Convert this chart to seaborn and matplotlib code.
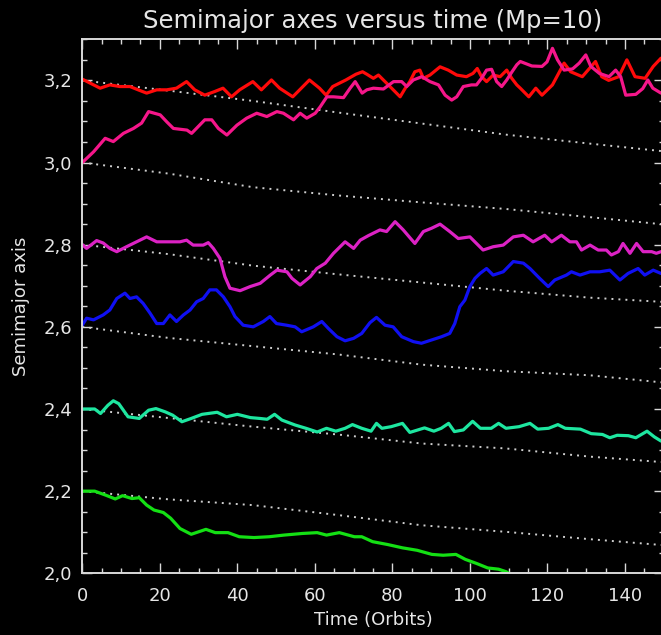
import numpy as np
import pandas as pd
import matplotlib
matplotlib.use("Agg")
import matplotlib.pyplot as plt
import seaborn as sns
from matplotlib.ticker import MultipleLocator

# ---------------- data ----------------
t_red = [0, 4.6, 7.1, 9.7, 12.3, 14.4, 16.6, 19.2, 21.8, 24.3, 26.9, 29.0, 31.6, 34.2, 36.3,
         38.5, 40.6, 44.0, 46.2, 48.8, 50.9, 54.3, 58.6, 61.2, 62.9, 64.6, 68.0, 70.6, 72.3,
         73.4, 75.1, 76.4, 78.1, 79.8, 82.0, 83.2, 84.5, 85.8, 87.1, 88.0, 89.7, 92.3, 94.4,
         96.6, 99.1, 100.8, 101.9, 103.0, 104.3, 106.0, 107.8, 109.5, 110.8, 112.1, 113.0,
         115.2, 117.0, 118.6, 121.3, 124.3, 126.0, 129.0, 132.4, 134.0, 135.8, 138.4, 140.5,
         142.6, 145.2, 147.3, 149.3]
a_red = [3.203, 3.181, 3.189, 3.185, 3.185, 3.177, 3.169, 3.177, 3.177, 3.181, 3.197, 3.177,
         3.164, 3.173, 3.181, 3.160, 3.177, 3.197, 3.177, 3.201, 3.181, 3.160, 3.201, 3.181,
         3.164, 3.185, 3.201, 3.215, 3.221, 3.215, 3.205, 3.213, 3.197, 3.181, 3.160, 3.179,
         3.197, 3.221, 3.225, 3.205, 3.213, 3.233, 3.225, 3.213, 3.209, 3.217, 3.229, 3.209,
         3.197, 3.213, 3.209, 3.225, 3.205, 3.189, 3.181, 3.160, 3.181, 3.164, 3.189, 3.242,
         3.221, 3.209, 3.246, 3.209, 3.200, 3.209, 3.250, 3.209, 3.205, 3.234, 3.254]

t_pink = [0, 2.9, 5.9, 8.0, 10.6, 13.2, 15.3, 17.1, 20.1, 21.8, 23.5, 27.0, 28.2, 31.6, 33.4,
          35.1, 37.3, 39.9, 42.4, 45.0, 47.6, 50.2, 51.9, 54.5, 56.2, 57.9, 60.1, 61.4, 63.1,
          64.8, 67.4, 69.1, 70.4, 72.2, 73.4, 75.1, 77.7, 80.3, 82.4, 83.7, 85.4, 87.6, 89.7,
          91.9, 93.6, 95.3, 96.6, 98.3, 100.4, 101.7, 103.0, 104.3, 105.6, 106.9, 108.2,
          109.5, 110.8, 112.1, 113.0, 116.0, 118.6, 119.9, 121.3, 122.6, 124.3, 126.5, 128.2,
          129.9, 131.2, 133.4, 135.9, 137.6, 138.9, 140.2, 142.8, 144.6, 145.9, 147.2, 149.3]
a_pink = [3.000, 3.026, 3.059, 3.051, 3.071, 3.083, 3.096, 3.124, 3.116, 3.099, 3.083, 3.079,
          3.071, 3.104, 3.104, 3.083, 3.067, 3.091, 3.108, 3.120, 3.112, 3.124, 3.120, 3.104,
          3.120, 3.108, 3.120, 3.136, 3.160, 3.160, 3.158, 3.181, 3.197, 3.169, 3.177, 3.181,
          3.179, 3.197, 3.197, 3.185, 3.201, 3.209, 3.197, 3.189, 3.164, 3.152, 3.160, 3.185,
          3.189, 3.189, 3.205, 3.225, 3.227, 3.197, 3.185, 3.201, 3.220, 3.238, 3.246, 3.235,
          3.234, 3.245, 3.278, 3.250, 3.225, 3.228, 3.242, 3.262, 3.234, 3.217, 3.209, 3.225,
          3.209, 3.164, 3.166, 3.180, 3.201, 3.181, 3.169]

t_orchid = [0, 1.1, 3.7, 5.4, 7.1, 8.9, 11.4, 14.0, 16.6, 19.2, 21.8, 25.2, 26.9, 28.6, 31.2,
            32.5, 33.8, 35.5, 36.8, 38.1, 40.7, 43.3, 45.9, 48.5, 50.2, 52.8, 54.1, 56.2, 58.8,
            60.5, 62.7, 64.8, 67.8, 70.0, 71.7, 73.8, 76.8, 78.5, 80.7, 82.8, 85.8, 88.0, 90.1,
            92.3, 94.8, 97.0, 100.0, 101.7, 103.4, 106.0, 108.6, 111.2, 113.8, 116.3, 119.3,
            121.1, 123.6, 125.8, 127.5, 128.8, 131.0, 133.1, 135.2, 136.5, 138.3, 139.5, 141.3,
            143.0, 144.7, 146.9, 148.1, 149.3]
a_orchid = [2.800, 2.791, 2.810, 2.804, 2.791, 2.783, 2.795, 2.807, 2.819, 2.807, 2.807, 2.807,
            2.811, 2.799, 2.799, 2.805, 2.791, 2.767, 2.722, 2.694, 2.688, 2.698, 2.706, 2.726,
            2.738, 2.734, 2.718, 2.702, 2.722, 2.742, 2.755, 2.779, 2.807, 2.791, 2.811, 2.822,
            2.836, 2.832, 2.856, 2.836, 2.803, 2.832, 2.840, 2.850, 2.832, 2.815, 2.819, 2.803,
            2.787, 2.795, 2.799, 2.819, 2.823, 2.807, 2.823, 2.807, 2.823, 2.807, 2.807, 2.787,
            2.799, 2.787, 2.787, 2.775, 2.783, 2.803, 2.779, 2.803, 2.783, 2.783, 2.779, 2.783]

t_blue = [0, 1.1, 2.9, 5.4, 7.1, 8.9, 11.0, 12.3, 14.0, 15.7, 17.5, 19.2, 20.9, 22.6, 24.3,
          26.1, 27.8, 29.5, 31.2, 32.9, 34.6, 36.4, 38.1, 39.4, 41.5, 44.1, 46.7, 48.4, 50.1,
          52.7, 54.9, 56.6, 59.6, 61.8, 63.5, 65.7, 67.8, 70.0, 72.1, 74.2, 75.9, 78.1, 80.2,
          82.4, 85.4, 87.5, 90.1, 92.7, 94.8, 96.1, 97.4, 98.7, 100.0, 101.3, 102.6, 104.3,
          106.0, 108.6, 111.2, 113.8, 115.5, 118.0, 120.2, 121.9, 124.9, 126.2, 128.4, 131.0,
          133.5, 136.1, 138.7, 140.8, 143.4, 145.1, 147.3, 149.3]
a_blue = [2.604, 2.621, 2.617, 2.629, 2.641, 2.669, 2.682, 2.669, 2.673, 2.657, 2.633, 2.608,
          2.608, 2.629, 2.613, 2.629, 2.641, 2.661, 2.669, 2.690, 2.690, 2.673, 2.649, 2.625,
          2.604, 2.600, 2.613, 2.625, 2.608, 2.604, 2.600, 2.588, 2.600, 2.613, 2.596, 2.576,
          2.566, 2.572, 2.584, 2.610, 2.623, 2.604, 2.600, 2.576, 2.564, 2.560, 2.568, 2.576,
          2.584, 2.608, 2.649, 2.665, 2.698, 2.718, 2.730, 2.742, 2.726, 2.734, 2.759, 2.755,
          2.742, 2.718, 2.698, 2.714, 2.726, 2.734, 2.726, 2.734, 2.734, 2.738, 2.714, 2.730,
          2.742, 2.726, 2.738, 2.730]

t_teal = [0, 3.2, 4.7, 6.6, 8.0, 9.4, 11.8, 14.7, 17.1, 19.0, 21.4, 23.3, 25.7, 28.1, 30.9,
          34.8, 37.2, 40.0, 43.4, 45.8, 47.7, 49.6, 51.5, 54.9, 57.7, 60.6, 63.0, 65.4, 67.8,
          69.7, 72.1, 74.5, 75.9, 77.3, 79.7, 82.6, 84.5, 88.3, 90.7, 92.6, 94.5, 96.0, 98.3,
          100.7, 102.7, 105.5, 107.4, 109.3, 112.7, 115.5, 117.5, 120.3, 122.7, 124.6, 128.5,
          131.3, 134.2, 136.1, 138.0, 140.9, 142.8, 145.7, 147.6, 149.3]
a_teal = [2.400, 2.400, 2.389, 2.409, 2.420, 2.413, 2.381, 2.377, 2.397, 2.401, 2.393, 2.385,
          2.369, 2.377, 2.387, 2.392, 2.381, 2.387, 2.379, 2.377, 2.375, 2.387, 2.373, 2.361,
          2.353, 2.344, 2.353, 2.346, 2.353, 2.362, 2.353, 2.346, 2.365, 2.353, 2.357, 2.365,
          2.343, 2.354, 2.346, 2.353, 2.365, 2.345, 2.349, 2.370, 2.353, 2.353, 2.365, 2.353,
          2.357, 2.365, 2.351, 2.353, 2.362, 2.353, 2.351, 2.340, 2.338, 2.330, 2.336, 2.335,
          2.330, 2.346, 2.332, 2.322]

t_green = [0, 3.2, 6.1, 8.5, 10.4, 12.8, 14.7, 16.6, 18.5, 20.9, 22.8, 25.2, 28.1, 30.0, 31.9,
           34.3, 37.6, 40.5, 44.3, 48.2, 52.0, 56.8, 60.6, 63.0, 66.3, 70.2, 72.1, 74.9, 78.8,
           82.6, 86.4, 90.2, 93.1, 96.4, 98.8, 101.7, 104.6, 107.4, 109.3, 110.8]
a_green = [2.200, 2.200, 2.190, 2.181, 2.189, 2.182, 2.184, 2.166, 2.154, 2.148, 2.134, 2.109,
           2.095, 2.101, 2.107, 2.099, 2.099, 2.089, 2.087, 2.089, 2.093, 2.097, 2.099, 2.093,
           2.099, 2.089, 2.089, 2.077, 2.070, 2.062, 2.056, 2.046, 2.044, 2.046, 2.034, 2.024,
           2.013, 2.010, 2.004, 1.996]

# reference (dotted) migration tracks
t_track = [0, 22.3, 44.0, 65.8, 87.5, 109.2, 131.0, 149.3]
a_track1 = [3.200, 3.175, 3.150, 3.122, 3.095, 3.068, 3.046, 3.028]
a_track2 = [3.000, 2.973, 2.940, 2.920, 2.903, 2.887, 2.867, 2.850]
a_track3 = [2.800, 2.777, 2.749, 2.728, 2.708, 2.688, 2.671, 2.661]
a_track4 = [2.600, 2.573, 2.553, 2.533, 2.508, 2.492, 2.482, 2.465]
a_track5 = [2.400, 2.378, 2.357, 2.338, 2.316, 2.304, 2.284, 2.271]
a_track6 = [2.200, 2.180, 2.166, 2.142, 2.117, 2.101, 2.083, 2.069]

x_ticks = [0, 20, 40, 60, 80, 100, 120, 140]
x_ticklabels = ["0", "20", "40", "60", "80", "100", "120", "140"]
y_ticks = [2.0, 2.2, 2.4, 2.6, 2.8, 3.0, 3.2]
y_ticklabels = ["2,0", "2,2", "2,4", "2,6", "2,8", "3,0", "3,2"]

title = "Semimajor axes versus time (Mp=10)"
xlabel = "Time (Orbits)"
ylabel = "Semimajor axis"

# ---------------- styling ----------------
fg = "#e6e6e6"
sns.set_theme(style="ticks", rc={
    "figure.facecolor": "black", "axes.facecolor": "black",
    "axes.edgecolor": "#d8d8d8", "axes.linewidth": 1.4,
    "text.color": fg, "axes.labelcolor": fg,
    "xtick.color": "#d8d8d8", "ytick.color": "#d8d8d8",
    "xtick.labelcolor": fg, "ytick.labelcolor": fg,
})
plt.rcParams["font.family"] = ["DejaVu Sans"]

series = [("s1", t_red, a_red), ("s2", t_pink, a_pink), ("s3", t_orchid, a_orchid),
          ("s4", t_blue, a_blue), ("s5", t_teal, a_teal), ("s6", t_green, a_green)]
palette = {"s1": "#ff0a0a", "s2": "#f5168a", "s3": "#dc22c4", "s4": "#1010f2",
           "s5": "#1ee6a0", "s6": "#14e014"}
df = pd.concat([pd.DataFrame({"time": t, "a": a, "planet": n}) for n, t, a in series],
               ignore_index=True)

tracks = [a_track1, a_track2, a_track3, a_track4, a_track5, a_track6]
df_tr = pd.concat([pd.DataFrame({"time": t_track, "a": a, "track": f"tr{i}"})
                   for i, a in enumerate(tracks)], ignore_index=True)

W, H = 661, 635
fig = plt.figure(figsize=(W / 100, H / 100), dpi=100)
left, right, top, bottom = 82.3, 663.7, 39.3, 573.3
ax = fig.add_axes([left / W, 1 - bottom / H, (right - left) / W, (bottom - top) / H])

for name in df_tr["track"].unique():
    sns.lineplot(data=df_tr[df_tr["track"] == name], x="time", y="a", ax=ax,
                 color="#cfcfcf", lw=1.4, linestyle=(0, (1, 2.6)), estimator=None,
                 sort=False, legend=False, zorder=1)

sns.lineplot(data=df, x="time", y="a", hue="planet", palette=palette, ax=ax,
             estimator=None, sort=False, lw=2.3, legend=False, zorder=2)

ax.set_xlim(0, 150)
ax.set_ylim(2.0, 3.3)
ax.set_xticks(x_ticks)
ax.set_xticklabels(x_ticklabels)
ax.set_yticks(y_ticks)
ax.set_yticklabels(y_ticklabels)
ax.xaxis.set_minor_locator(MultipleLocator(5))
ax.yaxis.set_minor_locator(MultipleLocator(0.05))
ax.tick_params(which="both", direction="in", top=True, right=True, width=1.0)
ax.tick_params(which="major", length=7.5, labelsize=13)
ax.tick_params(which="minor", length=3.6)
ax.tick_params(axis="x", which="major", pad=10)
ax.tick_params(axis="y", which="major", pad=7)
for s in ax.spines.values():
    s.set_visible(True)

ax.set_xlabel(xlabel, fontsize=13, labelpad=4)
ax.set_ylabel(ylabel, fontsize=13, labelpad=10)
ax.set_title(title, fontsize=17.5, pad=8, color=fg)

fig.savefig("out.png", dpi=100, facecolor="black")
